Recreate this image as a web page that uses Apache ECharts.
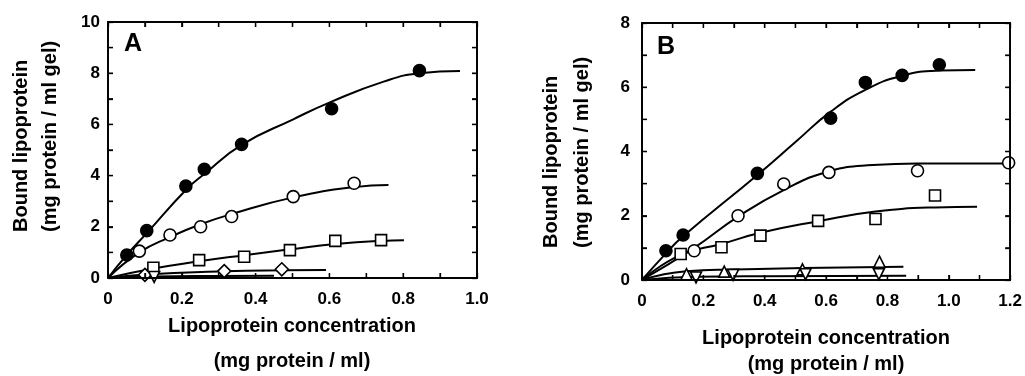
<!DOCTYPE html>
<html>
<head>
<meta charset="utf-8">
<script src="https://cdn.jsdelivr.net/npm/echarts@6/dist/echarts.min.js"></script>
<style>
html,body{margin:0;padding:0;background:#fff;}
#c{width:1025px;height:376px;}
</style>
</head>
<body>
<div id="c"></div>
<script>
// ---------- Panel A data ----------
const aXTicks = ['0','0.2','0.4','0.6','0.8','1.0'];
const aYTicks = ['0','2','4','6','8','10'];
const aXTickMarks = [0,0.1,0.2,0.3,0.4,0.5,0.6,0.7,0.8,0.9,1.0];
const aYTickMarks = [0,1,2,3,4,5,6,7,8,9,10];
const aFilledX = [0.051,0.105,0.211,0.261,0.362,0.606,0.844];
const aFilledY = [0.90,1.85,3.59,4.25,5.22,6.61,8.10];
const aFilledFitX = [0,0.051,0.105,0.211,0.261,0.362,0.502,0.606,0.747,0.844,0.954];
const aFilledFitY = [0,0.90,1.75,3.44,4.06,5.20,6.20,6.89,7.67,8.00,8.09];
const aOpenX = [0.085,0.168,0.251,0.335,0.502,0.667];
const aOpenY = [1.05,1.68,2.00,2.40,3.18,3.70];
const aOpenFitX = [0,0.085,0.168,0.251,0.335,0.502,0.667,0.760];
const aOpenFitY = [0,1.00,1.60,2.10,2.50,3.15,3.55,3.63];
const aSquareX = [0.123,0.247,0.369,0.493,0.616,0.740];
const aSquareY = [0.40,0.70,0.83,1.09,1.45,1.48];
const aSquareFitX = [0,0.123,0.247,0.369,0.493,0.616,0.740,0.802];
const aSquareFitY = [0,0.37,0.65,0.89,1.12,1.33,1.45,1.47];
const aDiamondX = [0.100,0.315,0.471];
const aDiamondY = [0.12,0.27,0.34];
const aDiamondFitX = [0,0.100,0.315,0.471,0.591];
const aDiamondFitY = [0,0.14,0.26,0.30,0.31];
const aTriDownX = [0.125];
const aTriDownY = [0.04];
const aTriDownFitX = [0,0.125,0.300,0.450];
const aTriDownFitY = [0,0.06,0.08,0.09];

// ---------- Panel B data ----------
const bXTicks = ['0','0.2','0.4','0.6','0.8','1.0','1.2'];
const bYTicks = ['0','2','4','6','8'];
const bXTickMarks = [0,0.1,0.2,0.3,0.4,0.5,0.6,0.7,0.8,0.9,1.0,1.1,1.2];
const bYTickMarks = [0,1,2,3,4,5,6,7,8];
const bFilledX = [0.078,0.134,0.376,0.615,0.728,0.848,0.969];
const bFilledY = [0.91,1.40,3.32,5.04,6.15,6.37,6.70];
const bFilledFitX = [0,0.078,0.134,0.376,0.503,0.615,0.728,0.848,0.969,1.086];
const bFilledFitY = [0,0.83,1.36,3.27,4.32,5.24,5.92,6.36,6.52,6.54];
const bOpenX = [0.170,0.313,0.462,0.609,0.898,1.195];
const bOpenY = [0.91,2.00,2.99,3.35,3.40,3.65];
const bOpenFitX = [0,0.170,0.313,0.462,0.609,0.752,0.898,1.200];
const bOpenFitY = [0,1.00,1.97,2.80,3.38,3.58,3.63,3.63];
const bSquareX = [0.126,0.259,0.386,0.574,0.761,0.955];
const bSquareY = [0.81,1.02,1.38,1.84,1.90,2.63];
const bSquareFitX = [0,0.126,0.259,0.386,0.574,0.761,0.955,1.092];
const bSquareFitY = [0,0.78,1.12,1.47,1.83,2.13,2.26,2.28];
const bTriUpX = [0.145,0.268,0.523,0.774];
const bTriUpY = [0.18,0.26,0.33,0.57];
const bTriUpFitX = [0,0.145,0.300,0.523,0.852];
const bTriUpFitY = [0,0.27,0.33,0.37,0.41];
const bTriDownX = [0.176,0.297,0.533,0.772];
const bTriDownY = [0.08,0.16,0.18,0.18];
const bTriDownFitX = [0,0.176,0.400,0.861];
const bTriDownFitY = [0,0.10,0.12,0.13];

const panelLetters = ['A','B'];
const xTitle = ['Lipoprotein concentration','(mg protein / ml)'];
const yTitle = ['Bound lipoprotein','(mg protein / ml gel)'];

// ---------- helpers ----------
const FONT = 'Liberation Sans, Arial, Helvetica, sans-serif';
const zip = (xs, ys) => xs.map((x, i) => [x, ys[i]]);
const tickFmt = (ticks, step) => v => {
  const i = Math.round(v / step);
  if (i % 2) return '';
  return ticks[i / 2] !== undefined ? ticks[i / 2] : '';
};
const blankFmt = () => '';

function axisCommon(grid, max, interval, pos, fmt, margin) {
  return {
    type: 'value', gridIndex: grid, min: 0, max: max, interval: interval, position: pos,
    zlevel: 1,
    axisLine: { show: true, onZero: false, lineStyle: { color: '#000', width: 1.5 } },
    axisTick: { show: true, inside: true, length: 5, lineStyle: { color: '#000', width: 1.3 } },
    splitLine: { show: false },
    axisLabel: {
      margin: margin, color: '#000', fontFamily: FONT,
      fontWeight: 'bold', fontSize: 17, formatter: fmt
    }
  };
}
// box frame + inward ticks on all four sides, placed through the axes' own scales
function frame(ax, xMarks, yMarks, xMax, yMax) {
  return {
    type: 'custom', xAxisIndex: ax, yAxisIndex: ax, data: [[0, 0]],
    silent: true, clip: false, zlevel: 1, z: 1,
    renderItem: function (params, api) {
      const p0 = api.coord([0, 0]);
      const p1 = api.coord([xMax, yMax]);
      const ls = { stroke: '#000', lineWidth: 1.3, fill: null };
      const kids = [{
        type: 'polyline',
        shape: { points: [[p0[0], p0[1]], [p0[0], p1[1]], [p1[0], p1[1]], [p1[0], p0[1]], [p0[0], p0[1]]] },
        style: { stroke: '#000', lineWidth: 1.5, fill: null }
      }];
      xMarks.forEach(function (v) {
        const x = api.coord([v, 0])[0];
        kids.push({ type: 'line', shape: { x1: x, y1: p0[1], x2: x, y2: p0[1] - 5 }, style: ls });
        kids.push({ type: 'line', shape: { x1: x, y1: p1[1], x2: x, y2: p1[1] + 5 }, style: ls });
      });
      yMarks.forEach(function (v) {
        const y = api.coord([0, v])[1];
        kids.push({ type: 'line', shape: { x1: p0[0], y1: y, x2: p0[0] + 5, y2: y }, style: ls });
        kids.push({ type: 'line', shape: { x1: p1[0], y1: y, x2: p1[0] - 5, y2: y }, style: ls });
      });
      return { type: 'group', children: kids };
    }
  };
}
function fit(xs, ys, ax) {
  return {
    type: 'line', xAxisIndex: ax, yAxisIndex: ax, data: zip(xs, ys),
    showSymbol: false, smooth: 0.5, silent: true,
    lineStyle: { color: '#000', width: 2 }, z: 2
  };
}
function pts(xs, ys, ax, symbol, size, filled, rotate) {
  return {
    type: 'scatter', xAxisIndex: ax, yAxisIndex: ax, data: zip(xs, ys),
    symbol: symbol, symbolSize: size, symbolRotate: rotate || 0,
    itemStyle: { color: filled ? '#000' : '#fff', borderColor: '#000', borderWidth: 1.6, opacity: 1 },
    z: 5
  };
}
function txt(s, x, y, size, rot, align) {
  return {
    type: 'text', x: x, y: y, rotation: rot || 0, z: 10,
    style: { text: s, fill: '#000', font: 'bold ' + size + 'px ' + FONT,
             textAlign: align || 'center', textVerticalAlign: 'middle' }
  };
}

const chart = echarts.init(document.getElementById('c'));
chart.setOption({
  animation: false,
  grid: [
    { left: 108, top: 22, width: 369, height: 256, show: true, zlevel: 1, borderColor: '#000', borderWidth: 1.5 },
    { left: 642, top: 23, width: 369, height: 257, show: true, zlevel: 1, borderColor: '#000', borderWidth: 1.5 }
  ],
  xAxis: [
    axisCommon(0, 1.0, 0.1, 'bottom', tickFmt(aXTicks, 0.1), 13),
    axisCommon(0, 1.0, 0.1, 'top', blankFmt, 8),
    axisCommon(1, 1.2, 0.1, 'bottom', tickFmt(bXTicks, 0.1), 13),
    axisCommon(1, 1.2, 0.1, 'top', blankFmt, 8)
  ],
  yAxis: [
    axisCommon(0, 10, 1, 'left', tickFmt(aYTicks, 1), 8),
    axisCommon(0, 10, 1, 'right', blankFmt, 8),
    axisCommon(1, 8, 1, 'left', tickFmt(bYTicks, 1), 12),
    axisCommon(1, 8, 1, 'right', blankFmt, 8)
  ],
  series: [
    frame(0, aXTickMarks, aYTickMarks, 1.0, 10),
    frame(2, bXTickMarks, bYTickMarks, 1.2, 8),

    fit(aFilledFitX, aFilledFitY, 0),
    fit(aOpenFitX, aOpenFitY, 0),
    fit(aSquareFitX, aSquareFitY, 0),
    fit(aDiamondFitX, aDiamondFitY, 0),
    fit(aTriDownFitX, aTriDownFitY, 0),
    pts(aFilledX, aFilledY, 0, 'circle', 12, true),
    pts(aOpenX, aOpenY, 0, 'circle', 12, false),
    pts(aSquareX, aSquareY, 0, 'rect', 11, false),
    pts(aDiamondX, aDiamondY, 0, 'diamond', 13, false),
    pts(aTriDownX, aTriDownY, 0, 'triangle', 11, false, 180),

    fit(bFilledFitX, bFilledFitY, 2),
    fit(bOpenFitX, bOpenFitY, 2),
    fit(bSquareFitX, bSquareFitY, 2),
    fit(bTriUpFitX, bTriUpFitY, 2),
    fit(bTriDownFitX, bTriDownFitY, 2),
    pts(bFilledX, bFilledY, 2, 'circle', 12, true),
    pts(bOpenX, bOpenY, 2, 'circle', 12, false),
    pts(bSquareX, bSquareY, 2, 'rect', 11, false),
    pts(bTriUpX, bTriUpY, 2, 'triangle', 11, false),
    pts(bTriDownX, bTriDownY, 2, 'triangle', 11, false, 180)
  ],
  graphic: [
    txt(panelLetters[0], 133, 44, 25),
    txt(panelLetters[1], 666, 47, 25),
    txt(xTitle[0], 292, 326, 20),
    txt(xTitle[1], 292, 361, 20),
    txt(xTitle[0], 826, 338, 20),
    txt(xTitle[1], 826, 364, 20),
    txt(yTitle[0], 21, 232, 20, Math.PI / 2, 'left'),
    txt(yTitle[1], 50, 232, 20, Math.PI / 2, 'left'),
    txt(yTitle[0], 551, 248, 20, Math.PI / 2, 'left'),
    txt(yTitle[1], 582, 248, 20, Math.PI / 2, 'left')
  ]
});
</script>
</body>
</html>
